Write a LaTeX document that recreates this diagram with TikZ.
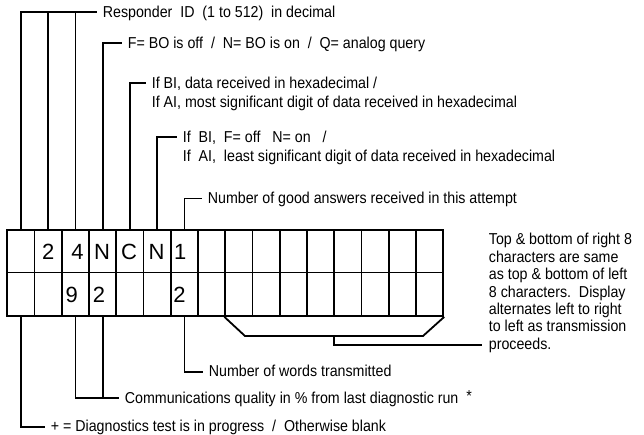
\documentclass[tikz,border=0pt]{standalone}
\usepackage{fontspec}
\setmainfont{Liberation Sans}[FakeStretch=0.9]
\newfontfamily\cellfont{Liberation Sans}
\usetikzlibrary{calc}
\begin{document}
\begin{tikzpicture}[x=1pt,y=-1pt,
  line width=1.8pt,
  cellt/.style={draw, minimum width=27.25pt, minimum height=42.5pt, inner sep=0pt},
  cellb/.style={draw, minimum width=27.25pt, minimum height=43.5pt, inner sep=0pt},
  ch/.style={anchor=base, inner sep=0pt, font=\cellfont\fontsize{22}{24}\selectfont},
  lab/.style={anchor=west, inner xsep=5pt, inner ysep=0pt, text height=10pt, text depth=0pt,
              font=\fontsize{15.8}{17.4}\selectfont},
  note/.style={anchor=north west, inner sep=0pt, align=left,
              font=\fontsize{15.8}{17.4}\selectfont},
  conn/.style={line width=1.8pt}
]
\useasboundingbox (0,0) rectangle (644,434);

% display cells
\foreach \i in {1,...,16}{
  \node[cellt] (t\i) at ({7.3+27.25*(\i-0.5)}, 251.25) {};
  \node[cellb] (d\i) at ({7.3+27.25*(\i-0.5)}, 294.25) {};
}

% characters
\node[ch] (c2) at (48.3,259.3) {2};
\node[ch] (c3) at (77.5,259.3) {4};
\node[ch] (c4) at (102,259.3) {N};
\node[ch] (c5) at (129,259.3) {C};
\node[ch] (c6) at (156.5,259.3) {N};
\node[ch] (c7) at (180.3,259.3) {1};
\node[ch] (e3) at (71.7,302.7) {9};
\node[ch] (e4) at (99,302.7) {2};
\node[ch] (e7) at (179.5,302.7) {2};

% top labels
\node[lab] (L1) at (97,12) {Responder\ \ ID\ \ (1 to 512)\ \ in decimal};
\node[lab] (L2) at (122,43) {F= BO is off\ \ /\ \ N= BO is on\ \ /\ \ Q= analog query};
\node[lab] (L3a) at (146,83) {If BI, data received in hexadecimal /};
\node[lab] (L3b) at (146,102.5) {If AI, most significant digit of data received in hexadecimal};
\node[lab] (L4a) at (177,137) {If\ \ BI,\ \ F= off\ \ \ N= on\ \ \ /};
\node[lab] (L4b) at (177,156) {If\ \ AI,\ \ least significant digit of data received in hexadecimal};
\node[lab] (L5) at (202,198.5) {Number of good answers received in this attempt};

% bottom labels
\node[lab] (B3) at (203,371.7) {Number of words transmitted};
\node[lab] (B2) at (119,398.3) {Communications quality in \% from last diagnostic run\ \ \raisebox{2pt}{*}};
\node[lab] (B1) at (45,426.7) {+ = Diagnostics test is in progress\ \ /\ \ Otherwise blank};

% note
\node[note] (N) at (488,232.5) {Top \& bottom of right 8\\characters are same\\as top \& bottom of left\\8 characters.\ \ Display\\alternates left to right\\to left as transmission\\proceeds.};

% top connectors
\draw[conn] (t1.north) |- (L1.west);
\draw[conn] (t2.north) -- (t2.north |- L1.west);
\draw[conn] (t3.north) -- (t3.north |- L1.west);
\draw[conn] (t4.north) |- (L2.west);
\draw[conn] (t5.north) |- (L3a.west);
\draw[conn] (t6.north) |- (L4a.west);
\draw[conn] (t7.north) |- (L5.west);

% bottom connectors
\draw[conn] (d1.south) |- (B1.west);
\draw[conn] (d3.south) |- (B2.west);
\draw[conn] (d4.south) -- (d4.south |- B2.west);
\draw[conn] (d7.south) |- (B3.west);

% bracket for right 8 characters
\coordinate (bl) at (245,336);
\coordinate (br) at (423,336);
\coordinate (bm) at ($(bl)!0.5!(br)$);
\coordinate (cj) at (482,345);
\draw[conn] (d9.south west) -- (bl) -- (br) -- (d16.south east);
\draw[conn] (bm) |- (cj);
\end{tikzpicture}
\end{document}
